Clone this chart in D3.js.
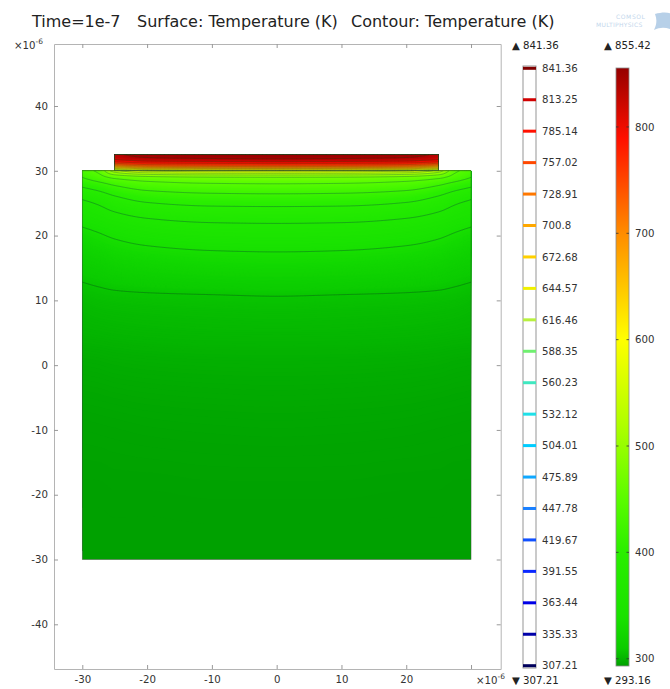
<!DOCTYPE html>
<html>
<head>
<meta charset="utf-8">
<script src="https://cdn.jsdelivr.net/npm/d3@7/dist/d3.min.js"></script>
<style>
  body { margin: 0; background: #fff; }
  text { font-family: "DejaVu Sans", sans-serif; }
</style>
</head>
<body>
<svg id="chart" width="670" height="689"></svg>
<script>
// ---- Temperature samples (K) at t = 1e-7 s ----
// Substrate block, x and y in micrometres; rows follow substrateY (bottom to top).
const substrateX = [-30, -27.5, -25, -20, -10, 0, 10, 20, 25, 27.5, 30];
const substrateY = [-30, -20, -10, 0, 5, 10, 15, 20, 22.5, 25, 27.5, 29, 30];
const substrateT = [
  [293.2, 293.2, 293.2, 293.2, 293.2, 293.2, 293.2, 293.2, 293.2, 293.2, 293.2],
  [293.6, 293.6, 293.7, 293.7, 293.8, 293.8, 293.8, 293.7, 293.7, 293.6, 293.6],
  [294.5, 294.6, 294.7, 294.9, 295.1, 295.2, 295.1, 294.9, 294.7, 294.6, 294.5],
  [297.0, 297.2, 297.5, 297.8, 298.1, 298.2, 298.1, 297.8, 297.5, 297.2, 297.0],
  [300.0, 300.3, 300.6, 301.0, 301.4, 301.5, 301.4, 301.0, 300.6, 300.3, 300.0],
  [303.0, 304.0, 304.5, 305.0, 305.5, 306.0, 305.5, 305.0, 304.5, 304.0, 303.0],
  [312, 314, 317, 320, 323, 324, 323, 320, 317, 314, 312],
  [328, 333, 338, 344, 348.5, 349.5, 348.5, 344, 338, 333, 328],
  [343, 348, 354, 362, 368, 369, 368, 362, 354, 348, 343],
  [358, 366, 377, 390, 397.5, 398.5, 397.5, 390, 377, 366, 358],
  [392, 402, 415, 430, 437, 438.5, 437, 430, 415, 402, 392],
  [420, 436, 455, 468, 475, 476, 475, 468, 455, 436, 420],
  [435, 455, 520, 565, 578, 580, 578, 565, 520, 455, 435]
];

// Heater strip on top of the substrate.
const heaterX = [-25, -22.5, -20, -10, 0, 10, 20, 22.5, 25];
const heaterY = [30, 30.5, 31, 31.5, 32, 32.5];
const heaterT = [
  [520, 545, 565, 578, 580, 578, 565, 545, 520],
  [650, 672, 690, 702, 705, 702, 690, 672, 650],
  [735, 752, 762, 770, 772, 770, 762, 752, 735],
  [795, 806, 812, 818, 820, 818, 812, 806, 795],
  [825, 835, 840, 845, 847, 845, 840, 835, 825],
  [835, 845, 850, 854, 855.42, 854, 850, 845, 835]
];

const contourLevels = [307.21, 335.33, 363.44, 391.55, 419.67, 447.78, 475.89, 504.01,
  532.12, 560.23, 588.35, 616.46, 644.57, 672.68, 700.8, 728.91, 757.02, 785.14, 813.25, 841.36];
const surfaceRange = [293.16, 855.42];
const colorbarTicks = [300, 400, 500, 600, 700, 800];
const xTicks = [-30, -20, -10, 0, 10, 20, 30];
const xTickLabels = ["-30", "-20", "-10", "0", "10", "20", ""];
const yTicks = [-40, -30, -20, -10, 0, 10, 20, 30, 40];

// ---- Colour tables ----
const surfaceStops = [
  [0.000, "rgb(0,160,0)"], [0.012, "rgb(4,180,0)"], [0.030, "rgb(12,204,0)"],
  [0.083, "rgb(25,226,0)"], [0.190, "rgb(42,238,0)"], [0.279, "rgb(90,252,0)"],
  [0.403, "rgb(175,255,0)"], [0.546, "rgb(255,255,0)"], [0.724, "rgb(255,140,0)"],
  [0.883, "rgb(255,15,0)"], [1.000, "rgb(150,0,0)"]
];
const rainbowColors = ["#00005c", "#0000a8", "#0000e6", "#0a28ff", "#1050ff", "#1a80ff", "#10a8ff",
  "#00ccff", "#20e0e8", "#40e8c0", "#70f070", "#b8f040", "#f0f000", "#ffd000", "#ffa800",
  "#ff7800", "#ff4800", "#ff1000", "#d00000", "#800000"];

const surfaceColor = d3.scaleLinear()
  .domain(surfaceStops.map(s => surfaceRange[0] + s[0] * (surfaceRange[1] - surfaceRange[0])))
  .range(surfaceStops.map(s => s[1]))
  .clamp(true);
const lineColor = d3.scaleLinear()
  .domain(rainbowColors.map((_, i) => contourLevels[0] +
    i * (contourLevels[contourLevels.length - 1] - contourLevels[0]) / (rainbowColors.length - 1)))
  .range(rainbowColors)
  .clamp(true);

// ---- Layout ----
const svg = d3.select("#chart");
svg.append("rect").attr("width", 670).attr("height", 689).attr("fill", "#fff");

const x = d3.scaleLinear().domain([-34.37, 34.58]).range([54, 500.7]);
const y = d3.scaleLinear().domain([-46.9, 49.57]).range([669, 44]);

// Monotone cubic (Fritsch-Carlson) interpolation through sampled points.
function pchip(xs, vs) {
  const n = xs.length, h = [], d = [], m = new Array(n);
  for (let i = 0; i < n - 1; i++) { h[i] = xs[i + 1] - xs[i]; d[i] = (vs[i + 1] - vs[i]) / h[i]; }
  m[0] = d[0]; m[n - 1] = d[n - 2];
  for (let i = 1; i < n - 1; i++) {
    if (d[i - 1] * d[i] <= 0) m[i] = 0;
    else {
      const w1 = 2 * h[i] + h[i - 1], w2 = h[i] + 2 * h[i - 1];
      m[i] = (w1 + w2) / (w1 / d[i - 1] + w2 / d[i]);
    }
  }
  return t => {
    let i = Math.max(0, Math.min(n - 2, d3.bisectRight(xs, t) - 1));
    const s = (t - xs[i]) / h[i], s2 = s * s, s3 = s2 * s;
    return (2 * s3 - 3 * s2 + 1) * vs[i] + (s3 - 2 * s2 + s) * h[i] * m[i] +
           (-2 * s3 + 3 * s2) * vs[i + 1] + (s3 - s2) * h[i] * m[i + 1];
  };
}

// Resample a table of temperatures onto a regular grid (row 0 = top edge).
function buildField(xs, ys, table, step) {
  const x0 = xs[0], x1 = xs[xs.length - 1], y0 = ys[0], y1 = ys[ys.length - 1];
  const nx = Math.round((x1 - x0) / step) + 1, ny = Math.round((y1 - y0) / step) + 1;
  const rowFns = table.map(r => pchip(xs, r));
  const values = new Float64Array(nx * ny);
  for (let i = 0; i < nx; i++) {
    const xv = x0 + i * step;
    const colFn = pchip(ys, rowFns.map(f => f(xv)));
    for (let j = 0; j < ny; j++) values[j * nx + i] = colFn(y1 - j * step);
  }
  return { values, nx, ny, x0, x1, y0, y1, step };
}

function fieldPath(f) {
  return d3.geoPath(d3.geoTransform({
    point(gx, gy) {
      this.stream.point(x(f.x0 + (gx - 0.5) * f.step), y(f.y1 - (gy - 0.5) * f.step));
    }
  }));
}

const defs = svg.append("defs");

function drawDomain(f, id) {
  defs.append("clipPath").attr("id", id).append("rect")
    .attr("x", x(f.x0)).attr("y", y(f.y1))
    .attr("width", x(f.x1) - x(f.x0)).attr("height", y(f.y0) - y(f.y1));
  const g = svg.append("g").attr("clip-path", `url(#${id})`);
  const path = fieldPath(f);
  const lo = d3.min(f.values), hi = d3.max(f.values);
  // finer bands where the colour map changes fastest
  const bandSteps = [lo - 0.01].concat(
    d3.range(Math.ceil(lo * 4) / 4, Math.min(hi, 330), 0.25),
    d3.range(Math.max(330, Math.ceil(lo)), hi, 1.5));
  const bands = d3.contours().size([f.nx, f.ny]).thresholds(bandSteps)(f.values);
  g.append("g").selectAll("path").data(bands).join("path")
    .attr("d", path)
    .attr("fill", d => surfaceColor(d.value + (d.value < 330 ? 0.125 : 0.75)));
  const lines = d3.contours().size([f.nx, f.ny]).thresholds(contourLevels)(f.values)
    .filter(d => d.coordinates.length);
  g.append("g").selectAll("path").data(lines).join("path")
    .attr("d", path)
    .attr("fill", "none")
    .attr("stroke", d => d3.interpolateRgb(lineColor(d.value), "#0b4a0b")(0.78))
    .attr("stroke-opacity", 0.45)
    .attr("stroke-width", 0.8);
  svg.append("rect")
    .attr("x", x(f.x0)).attr("y", y(f.y1))
    .attr("width", x(f.x1) - x(f.x0)).attr("height", y(f.y0) - y(f.y1))
    .attr("fill", "none").attr("stroke", "#3a3a3a").attr("stroke-opacity", 0.6).attr("stroke-width", 0.7);
}

drawDomain(buildField(substrateX, substrateY, substrateT, 0.25), "clip-substrate");
drawDomain(buildField(heaterX, heaterY, heaterT, 0.125), "clip-heater");

// ---- Axes frame ----
function styleAxis(g) {
  g.attr("font-family", "DejaVu Sans").attr("font-size", 10.2);
  g.select(".domain").attr("stroke", "#b4b4b4");
  g.selectAll(".tick line").attr("stroke", "#999");
  g.selectAll(".tick text").attr("fill", "#333");
}
svg.append("g").attr("transform", "translate(0,669)")
  .call(d3.axisBottom(x).tickValues(xTicks).tickFormat((d, i) => xTickLabels[i])
    .tickSize(-4).tickSizeOuter(0).tickPadding(7))
  .call(styleAxis);
svg.append("g").attr("transform", "translate(0,44)")
  .call(d3.axisTop(x).tickValues(xTicks).tickFormat("").tickSize(-4).tickSizeOuter(0))
  .call(styleAxis);
svg.append("g").attr("transform", "translate(54,0)")
  .call(d3.axisLeft(y).tickValues(yTicks).tickFormat(d => String(d)).tickSize(-4).tickSizeOuter(0).tickPadding(6))
  .call(styleAxis);
svg.append("g").attr("transform", "translate(500.7,0)")
  .call(d3.axisRight(y).tickValues(yTicks).tickFormat("").tickSize(-4).tickSizeOuter(0))
  .call(styleAxis);

// Axis multipliers
function multiplier(px, py) {
  const t = svg.append("text").attr("x", px).attr("y", py).attr("font-size", 10.2).attr("fill", "#333");
  t.append("tspan").text("×10");
  t.append("tspan").attr("dy", -5).attr("font-size", 7.5).text("-6");
}
multiplier(14, 49);
multiplier(476, 684);

// ---- Title ----
const title = svg.append("text").attr("y", 27).attr("font-size", 16).attr("fill", "#222");
title.append("tspan").attr("x", 32).text("Time=1e-7");
title.append("tspan").attr("x", 137).text("Surface: Temperature (K)");
title.append("tspan").attr("x", 351).text("Contour: Temperature (K)");

// ---- Contour legend ----
const legendY = d3.scaleLinear()
  .domain([contourLevels[0], contourLevels[contourLevels.length - 1]])
  .range([665.7, 68.3]);
svg.append("rect").attr("x", 523).attr("y", 66).attr("width", 13).attr("height", 602)
  .attr("fill", "#fff").attr("stroke", "#8a8a8a").attr("stroke-width", 0.9);
svg.append("g").selectAll("rect").data(contourLevels).join("rect")
  .attr("x", 523).attr("width", 13)
  .attr("y", d => legendY(d) - 1.5).attr("height", 3)
  .attr("fill", d => lineColor(d));
svg.append("g").selectAll("text").data(contourLevels).join("text")
  .attr("x", 542).attr("y", d => legendY(d)).attr("dy", "0.36em")
  .attr("font-size", 10.2).attr("fill", "#333")
  .text(d => String(d));

// ---- Surface colour bar ----
const barY = d3.scaleLinear().domain(surfaceRange).range([666, 68]);
const grad = defs.append("linearGradient").attr("id", "surface-grad")
  .attr("x1", 0).attr("y1", 1).attr("x2", 0).attr("y2", 0);
grad.selectAll("stop").data(surfaceStops).join("stop")
  .attr("offset", d => d[0])
  .attr("stop-color", d => d[1]);
svg.append("rect").attr("x", 616).attr("y", barY(surfaceRange[1]))
  .attr("width", 13).attr("height", barY(surfaceRange[0]) - barY(surfaceRange[1]))
  .attr("fill", "url(#surface-grad)").attr("stroke", "#8a8a8a").attr("stroke-width", 0.8);
const cbTicks = svg.append("g");
cbTicks.selectAll("line.l").data(colorbarTicks).join("line").attr("class", "l")
  .attr("x1", 616).attr("x2", 618.5).attr("y1", d => barY(d)).attr("y2", d => barY(d))
  .attr("stroke", "#333").attr("stroke-width", 0.8);
cbTicks.selectAll("line.r").data(colorbarTicks).join("line").attr("class", "r")
  .attr("x1", 626.5).attr("x2", 629).attr("y1", d => barY(d)).attr("y2", d => barY(d))
  .attr("stroke", "#333").attr("stroke-width", 0.8);
cbTicks.selectAll("text").data(colorbarTicks).join("text")
  .attr("x", 635).attr("y", d => barY(d)).attr("dy", "0.36em")
  .attr("font-size", 10.2).attr("fill", "#333")
  .text(d => String(d));

// ---- Extreme value markers ----
const marks = [
  { px: 512, py: 49, s: "▲ " + contourLevels[contourLevels.length - 1] },
  { px: 512, py: 684, s: "▼ " + contourLevels[0] },
  { px: 604, py: 49, s: "▲ " + surfaceRange[1] },
  { px: 604, py: 684, s: "▼ " + surfaceRange[0] }
];
svg.append("g").selectAll("text").data(marks).join("text")
  .attr("x", d => d.px).attr("y", d => d.py)
  .attr("font-size", 10.2).attr("fill", "#222")
  .text(d => d.s);

// ---- Software badge ----
const badge = svg.append("g").attr("opacity", 0.55);
badge.append("text").attr("x", 616).attr("y", 19).attr("font-size", 6).attr("fill", "#8fb6dc")
  .attr("letter-spacing", 0.6).text("COMSOL");
badge.append("text").attr("x", 596).attr("y", 27).attr("font-size", 6).attr("fill", "#8fb6dc")
  .attr("letter-spacing", 0.3).text("MULTIPHYSICS");
badge.append("path")
  .attr("d", "M655,14 C662,12 668,12 672,14 L672,30 C666,27 660,27 654,30 C657,24 657,19 655,14 Z")
  .attr("fill", "#7eaad6");
</script>
</body>
</html>
